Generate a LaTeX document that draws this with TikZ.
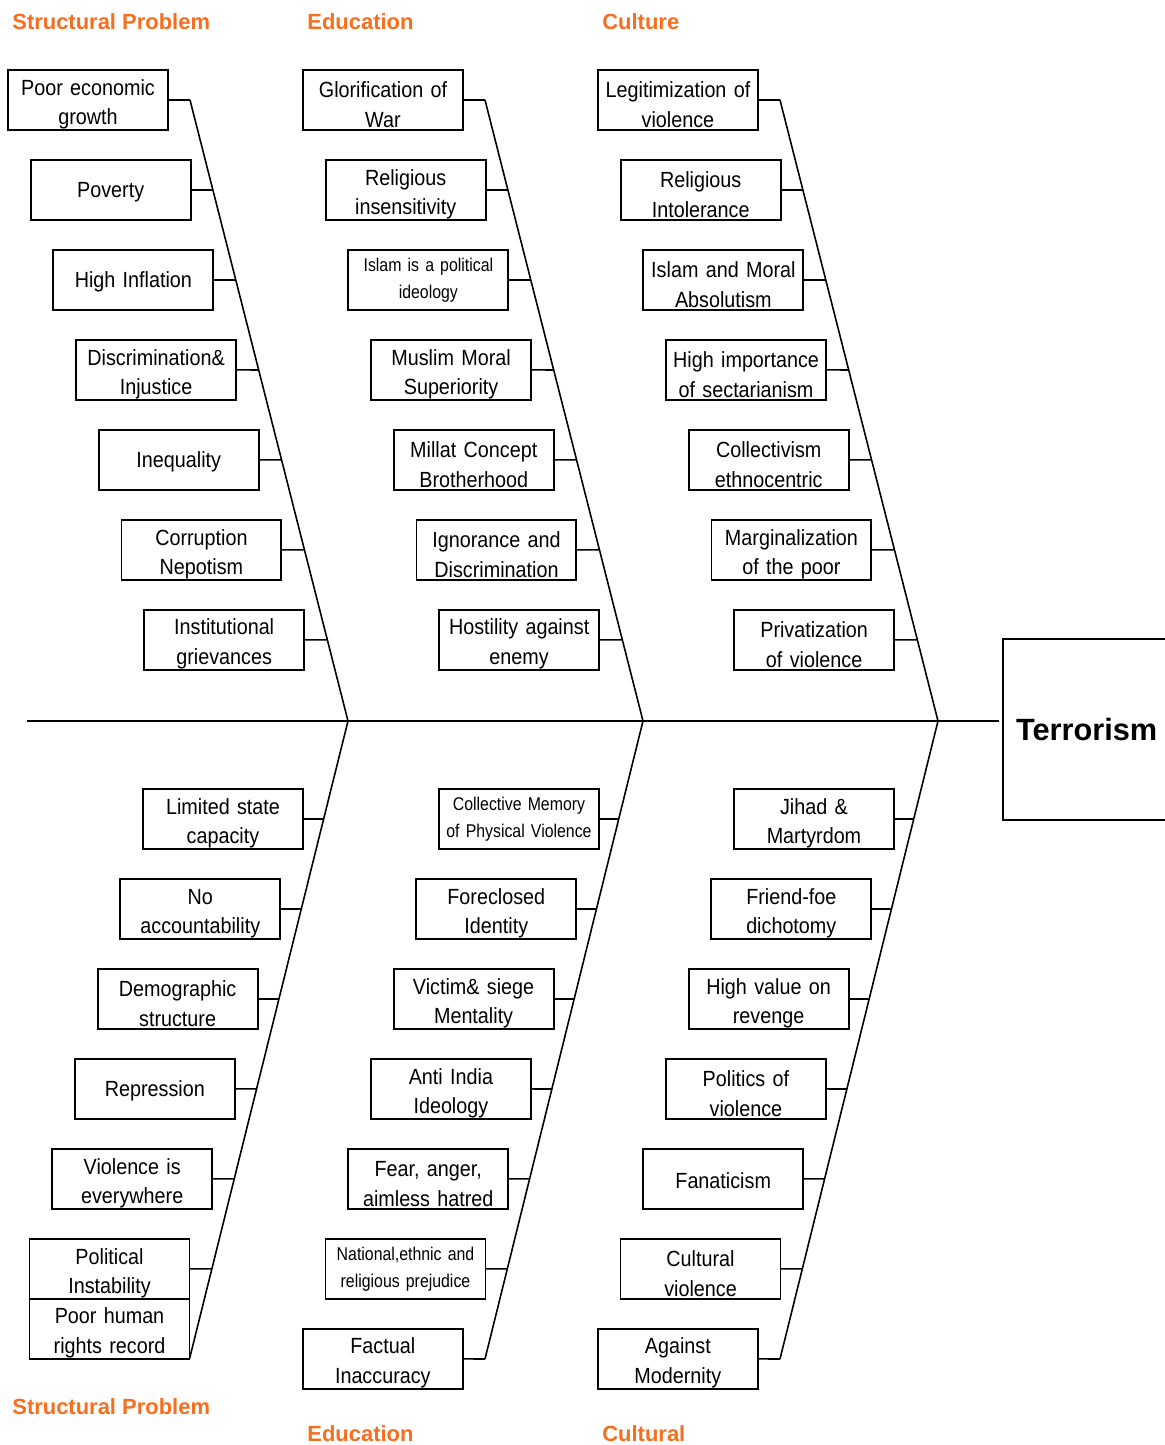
\documentclass[tikz,border=0pt]{standalone}
\usepackage{fontspec}
\setmainfont{Liberation Sans}
\newfontfamily\boxfont{Liberation Sans}[FakeStretch=0.9]
\newfontfamily\narrowfont{Liberation Sans}[FakeStretch=0.86]
\usetikzlibrary{positioning}
\definecolor{headorange}{RGB}{247,110,30}

\begin{document}
\begin{tikzpicture}[x=0.02cm,y=-0.02cm,node distance=0.6cm,
    causebox/.style={draw,line width=1.1pt,minimum width=3.2cm,minimum height=1.2cm,
      inner sep=0pt,outer sep=0pt,text width=3.15cm,align=center},
    cause/.style={causebox,font=\boxfont\fontsize{12.5}{17}\selectfont,
      execute at begin node={\rule{0pt}{14pt}}},
    single/.style={causebox,font=\boxfont\fontsize{12.5}{17}\selectfont,
      execute at begin node={\rule{0pt}{11pt}}},
    narrow/.style={causebox,font=\narrowfont\fontsize{10.5}{15.5}\selectfont},
    head/.style={anchor=west,inner sep=0pt,text=headorange,
      font=\bfseries\fontsize{12.5}{15}\selectfont},
    bone/.style={line width=0.9pt}]
    \useasboundingbox (0,0) rectangle (1165,1445);

    % headings
    \node[head] (h1) at (12,22) {Structural Problem};
    \node[head] (h2) at (307,22) {Education};
    \node[head] (h3) at (602,22) {Culture};
    \node[head] (h4) at (12,1407) {Structural Problem};
    \node[head] (h5) at (307,1434) {Education};
    \node[head] (h6) at (602,1434) {Cultural};

    % effect
    \node[draw, line width=1.3pt, anchor=north west, minimum width=3.6cm, minimum height=3.62cm,
      inner xsep=0.26cm, outer sep=0pt, text width=3.08cm, align=left,
      font=\bfseries\fontsize{17.5}{20}\selectfont] (T) at (1003,639) {Terrorism};

    % structural problem, upper
    \node[cause, anchor=north west] (s1) at (8,70) {Poor economic\\growth};
    \node[single] (s2) [below=of s1, xshift=0.454cm] {Poverty};
    \node[single] (s3) [below=of s2, xshift=0.454cm] {High Inflation};
    \node[cause] (s4) [below=of s3, xshift=0.454cm] {Discrimination\&\\Injustice};
    \node[single] (s5) [below=of s4, xshift=0.454cm] {Inequality};
    \node[cause] (s6) [below=of s5, xshift=0.454cm] {Corruption\\Nepotism};
    \node[cause] (s7) [below=of s6, xshift=0.454cm] {Institutional\\grievances};
    % structural problem, lower
    \node[cause, anchor=north west] (s8) at (143,789) {Limited state\\capacity};
    \node[cause] (s9) [below=of s8, xshift=-0.454cm] {No\\accountability};
    \node[cause] (s10) [below=of s9, xshift=-0.454cm] {Demographic\\structure};
    \node[single] (s11) [below=of s10, xshift=-0.454cm] {Repression};
    \node[cause] (s12) [below=of s11, xshift=-0.454cm] {Violence is\\everywhere};
    \node[cause] (s13) [below=of s12, xshift=-0.454cm] {Political\\Instability};
    \node[cause] (s14) [below=0pt of s13] {Poor human\\rights record};

    % education, upper
    \node[cause, anchor=north west] (e1) at (303,70) {Glorification of\\War};
    \node[cause] (e2) [below=of e1, xshift=0.454cm] {Religious\\insensitivity};
    \node[narrow] (e3) [below=of e2, xshift=0.454cm] {Islam is a political\\ideology};
    \node[cause] (e4) [below=of e3, xshift=0.454cm] {Muslim Moral\\Superiority};
    \node[cause] (e5) [below=of e4, xshift=0.454cm] {Millat Concept\\Brotherhood};
    \node[cause] (e6) [below=of e5, xshift=0.454cm] {Ignorance and\\Discrimination};
    \node[cause] (e7) [below=of e6, xshift=0.454cm] {Hostility against\\enemy};
    % education, lower
    \node[narrow, anchor=north west] (e8) at (439,789) {Collective Memory\\of Physical Violence};
    \node[cause] (e9) [below=of e8, xshift=-0.454cm] {Foreclosed\\Identity};
    \node[cause] (e10) [below=of e9, xshift=-0.454cm] {Victim\& siege\\Mentality};
    \node[cause] (e11) [below=of e10, xshift=-0.454cm] {Anti India\\Ideology};
    \node[cause] (e12) [below=of e11, xshift=-0.454cm] {Fear, anger,\\aimless hatred};
    \node[narrow] (e13) [below=of e12, xshift=-0.454cm] {National,ethnic and\\religious prejudice};
    \node[cause] (e14) [below=of e13, xshift=-0.454cm] {Factual\\Inaccuracy};

    % culture, upper
    \node[cause, anchor=north west] (c1) at (598,70) {Legitimization of\\violence};
    \node[cause] (c2) [below=of c1, xshift=0.454cm] {Religious\\Intolerance};
    \node[cause] (c3) [below=of c2, xshift=0.454cm] {Islam and Moral\\Absolutism};
    \node[cause] (c4) [below=of c3, xshift=0.454cm] {High importance\\of sectarianism};
    \node[cause] (c5) [below=of c4, xshift=0.454cm] {Collectivism\\ethnocentric};
    \node[cause] (c6) [below=of c5, xshift=0.454cm] {Marginalization\\of the poor};
    \node[cause] (c7) [below=of c6, xshift=0.454cm] {Privatization\\of violence};
    % culture, lower
    \node[cause, anchor=north west] (c8) at (734,789) {Jihad \&\\Martyrdom};
    \node[cause] (c9) [below=of c8, xshift=-0.454cm] {Friend-foe\\dichotomy};
    \node[cause] (c10) [below=of c9, xshift=-0.454cm] {High value on\\revenge};
    \node[cause] (c11) [below=of c10, xshift=-0.454cm] {Politics of\\violence};
    \node[single] (c12) [below=of c11, xshift=-0.454cm] {Fanaticism};
    \node[cause] (c13) [below=of c12, xshift=-0.454cm] {Cultural\\violence};
    \node[cause] (c14) [below=of c13, xshift=-0.454cm] {Against\\Modernity};

    % bones
    \coordinate (tail) at (27,721);
    \coordinate (sT) at (190,100);
    \coordinate (sM) at (348,721);
    \coordinate (sB) at (s14.south east);
    \coordinate (eT) at (485,100);
    \coordinate (eM) at (643,721);
    \coordinate (eB) at (485,1359);
    \coordinate (cT) at (780,100);
    \coordinate (cM) at (938,721);
    \coordinate (cB) at (780,1359);

    \draw[bone] (tail) -- ([xshift=-0.08cm]tail -| T.west);
    \draw[bone] (sT) -- (sM) -- (sB);
    \draw[bone] (eT) -- (eM) -- (eB);
    \draw[bone] (cT) -- (cM) -- (cB);

    \path[bone]
    (s1.east) edge (sT)
    (e1.east) edge (eT)
    (c1.east) edge (cT)
    (e14.east) edge (eB)
    (c14.east) edge (cB);

    \foreach \i in {2,...,7} {
      \draw[bone] (s\i.east) -- (intersection of s\i.west--s\i.east and sT--sM);
      \draw[bone] (e\i.east) -- (intersection of e\i.west--e\i.east and eT--eM);
      \draw[bone] (c\i.east) -- (intersection of c\i.west--c\i.east and cT--cM);
    }
    \foreach \i in {8,...,13} {
      \draw[bone] (s\i.east) -- (intersection of s\i.west--s\i.east and sM--sB);
      \draw[bone] (e\i.east) -- (intersection of e\i.west--e\i.east and eM--eB);
      \draw[bone] (c\i.east) -- (intersection of c\i.west--c\i.east and cM--cB);
    }
\end{tikzpicture}
\end{document}
